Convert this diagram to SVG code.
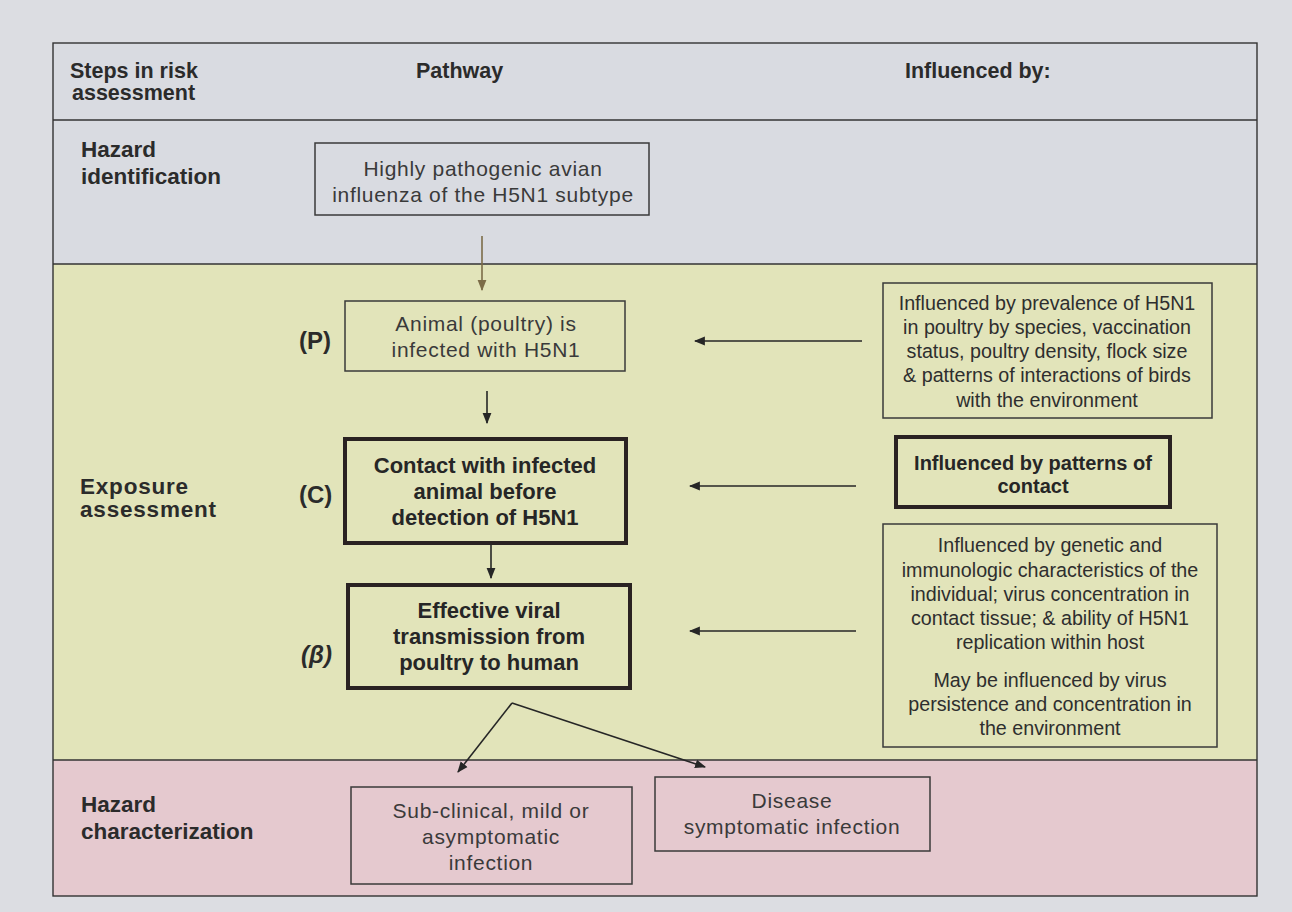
<svg xmlns="http://www.w3.org/2000/svg" width="1292" height="912" viewBox="0 0 1292 912">
  <style>
    .hdr { font-family: "Liberation Sans", Arial, sans-serif; font-weight: bold; font-size: 21.5px; fill: #2b2b2b; }
    .step { font-family: "Liberation Sans", Arial, sans-serif; font-weight: bold; font-size: 22.5px; fill: #2b2b2b; }
    .tag { font-family: "Liberation Sans", Arial, sans-serif; font-weight: bold; font-size: 24px; fill: #2b2b2b; }
    .plain { font-family: "Liberation Sans", Arial, sans-serif; font-size: 21px; letter-spacing: 0.7px; fill: #3a3a3a; text-anchor: middle; }
    .bold { font-family: "Liberation Sans", Arial, sans-serif; font-weight: bold; font-size: 22px; fill: #262626; text-anchor: middle; }
    .inf { font-family: "Liberation Sans", Arial, sans-serif; font-size: 19.7px; fill: #2e2e2e; text-anchor: middle; }
    .infb { font-family: "Liberation Sans", Arial, sans-serif; font-weight: bold; font-size: 20px; fill: #262626; text-anchor: middle; }
    .box { fill: none; stroke: #3a3a3a; stroke-width: 1.5; }
    .thick { fill: none; stroke: #2a2222; stroke-width: 4; }
    .rule { stroke: #333; stroke-width: 1.4; fill: none; }
    .conn { stroke: #262626; stroke-width: 1.6; fill: none; marker-end: url(#head); }
    .conn-olive { stroke: #7c6c48; stroke-width: 1.6; fill: none; marker-end: url(#headOlive); }
  </style>
  <defs>
    <marker id="head" viewBox="0 0 10 10" refX="9" refY="5" markerWidth="11" markerHeight="11" markerUnits="userSpaceOnUse" orient="auto">
      <path d="M0,1 L10,5 L0,9 Z" fill="#262626"/>
    </marker>
    <marker id="headOlive" viewBox="0 0 10 10" refX="9" refY="5" markerWidth="11" markerHeight="11" markerUnits="userSpaceOnUse" orient="auto">
      <path d="M0,1 L10,5 L0,9 Z" fill="#7c6c48"/>
    </marker>
  </defs>

  <!-- page -->
  <rect x="0" y="0" width="1292" height="912" fill="#dcdde2"/>

  <!-- table bands -->
  <rect x="53" y="43" width="1204" height="221" fill="#d9dbe1"/>
  <rect x="53" y="264" width="1204" height="496" fill="#e2e4ba"/>
  <rect x="53" y="760" width="1204" height="136" fill="#e5c9cf"/>
  <rect x="53" y="43" width="1204" height="853" class="rule"/>
  <line x1="53" y1="120" x2="1257" y2="120" class="rule"/>
  <line x1="53" y1="264" x2="1257" y2="264" class="rule"/>
  <line x1="53" y1="760" x2="1257" y2="760" class="rule"/>

  <!-- header row -->
  <g id="header">
    <text class="hdr" x="70" y="78">Steps in risk</text>
    <text class="hdr" x="72" y="100">assessment</text>
    <text class="hdr" x="416" y="78">Pathway</text>
    <text class="hdr" x="905" y="78">Influenced by:</text>
  </g>

  <!-- step labels -->
  <g id="step-hazard-identification">
    <text class="step" x="81" y="157">Hazard</text>
    <text class="step" x="81" y="184">identification</text>
  </g>
  <g id="step-exposure-assessment">
    <text class="step" x="80" y="494" font-size="17.5" letter-spacing="0.8">Exposure</text>
    <text class="step" x="80" y="517" font-size="17.5" letter-spacing="0.8">assessment</text>
  </g>
  <g id="step-hazard-characterization">
    <text class="step" x="81" y="812">Hazard</text>
    <text class="step" x="81" y="839">characterization</text>
  </g>

  <!-- pathway nodes -->
  <g id="node-hpai">
    <rect class="box" x="315" y="143" width="334" height="72"/>
    <text class="plain" x="483" y="176">Highly pathogenic avian</text>
    <text class="plain" x="483" y="202">influenza of the H5N1 subtype</text>
  </g>

  <g id="node-p">
    <text class="tag" x="299" y="349">(P)</text>
    <rect class="box" x="345" y="301" width="280" height="70"/>
    <text class="plain" x="486" y="331">Animal (poultry) is</text>
    <text class="plain" x="486" y="357">infected with H5N1</text>
  </g>

  <g id="node-c">
    <text class="tag" x="299" y="503">(C)</text>
    <rect class="thick" x="345" y="439" width="281" height="104"/>
    <text class="bold" x="485" y="473">Contact with infected</text>
    <text class="bold" x="485" y="499">animal before</text>
    <text class="bold" x="485" y="525">detection of H5N1</text>
  </g>

  <g id="node-beta">
    <text class="tag" x="301" y="663" font-style="italic">(β)</text>
    <rect class="thick" x="348" y="585" width="282" height="103"/>
    <text class="bold" x="489" y="618">Effective viral</text>
    <text class="bold" x="489" y="644">transmission from</text>
    <text class="bold" x="489" y="670">poultry to human</text>
  </g>

  <g id="node-subclinical">
    <rect class="box" x="351" y="787" width="281" height="97"/>
    <text class="plain" x="491" y="818">Sub-clinical, mild or</text>
    <text class="plain" x="491" y="844">asymptomatic</text>
    <text class="plain" x="491" y="870">infection</text>
  </g>

  <g id="node-disease">
    <rect class="box" x="655" y="777" width="275" height="74"/>
    <text class="plain" x="792" y="808">Disease</text>
    <text class="plain" x="792" y="834">symptomatic infection</text>
  </g>

  <!-- influencing factors -->
  <g id="node-influence-p">
    <rect class="box" x="883" y="283" width="329" height="135"/>
    <text class="inf" x="1047" y="310">Influenced by prevalence of H5N1</text>
    <text class="inf" x="1047" y="334">in poultry by species, vaccination</text>
    <text class="inf" x="1047" y="358">status, poultry density, flock size</text>
    <text class="inf" x="1047" y="382">&amp; patterns of interactions of birds</text>
    <text class="inf" x="1047" y="407">with the environment</text>
  </g>

  <g id="node-influence-c">
    <rect class="thick" x="896" y="437" width="274" height="70"/>
    <text class="infb" x="1033" y="470">Influenced by patterns of</text>
    <text class="infb" x="1033" y="493">contact</text>
  </g>

  <g id="node-influence-beta">
    <rect class="box" x="883" y="524" width="334" height="223"/>
    <text class="inf" x="1050" y="552">Influenced by genetic and</text>
    <text class="inf" x="1050" y="577">immunologic characteristics of the</text>
    <text class="inf" x="1050" y="601">individual; virus concentration in</text>
    <text class="inf" x="1050" y="625">contact tissue; &amp; ability of H5N1</text>
    <text class="inf" x="1050" y="649">replication within host</text>
    <text class="inf" x="1050" y="687">May be influenced by virus</text>
    <text class="inf" x="1050" y="711">persistence and concentration in</text>
    <text class="inf" x="1050" y="735">the environment</text>
  </g>

  <!-- connectors -->
  <g id="connectors">
    <line class="conn-olive" x1="482" y1="236" x2="482" y2="290"/>
    <line class="conn" x1="487" y1="391" x2="487" y2="423"/>
    <line class="conn" x1="491" y1="544" x2="491" y2="578"/>
    <polyline class="conn" points="512,703 458,772"/>
    <polyline class="conn" points="512,703 705,767"/>
    <line class="conn" x1="862" y1="341" x2="695" y2="341"/>
    <line class="conn" x1="856" y1="486" x2="690" y2="486"/>
    <line class="conn" x1="856" y1="631" x2="690" y2="631"/>
  </g>
</svg>
